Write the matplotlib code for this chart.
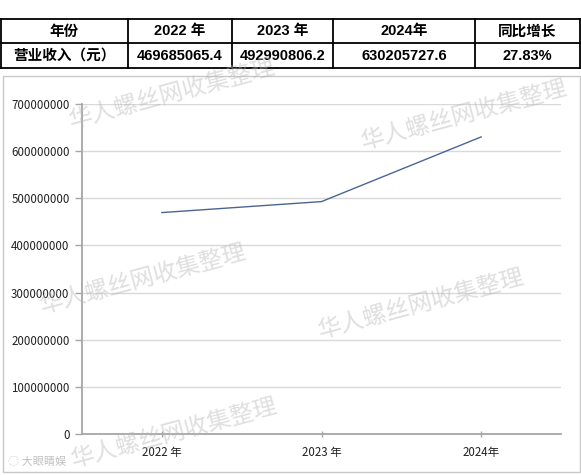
import numpy as np
import matplotlib
matplotlib.use('Agg')
import matplotlib.pyplot as plt
from matplotlib.patches import Rectangle

plt.rcParams['font.family'] = ['Noto Sans CJK SC', 'DejaVu Sans']

# 数据
years = ['2022 年', '2023 年', '2024年']
revenue = [469685065.4, 492990806.2, 630205727.6]
header = ['年份', '2022 年', '2023 年', '2024年', '同比增长']
row_label = '营业收入（元）'
yoy = revenue[-1] / revenue[-2] - 1
y_ticks = [0, 100000000, 200000000, 300000000, 400000000, 500000000, 600000000, 700000000]
watermark = '华人螺丝网收集整理'

W, H = 581, 475
fig = plt.figure(figsize=(W / 100, H / 100), dpi=100)
fig.patch.set_facecolor('white')

# 图表区
ax = fig.add_axes([82 / W, (H - 434) / H, 479 / W, 330 / H])
x = np.arange(len(years))
ax.plot(x, revenue, color='#4a6594', linewidth=1.0, zorder=3)
ax.set_xlim(-0.5, len(years) - 0.5)
ax.set_ylim(0, 700000000)
ax.set_yticks(y_ticks)
ax.set_yticklabels([str(v) for v in y_ticks])
ax.set_xticks(x)
ax.set_xticklabels(years)
ax.grid(axis='y', color='#d9d9d9', linewidth=1.0)
ax.set_axisbelow(True)
for s in ['top', 'right']:
    ax.spines[s].set_visible(False)
for s in ['left', 'bottom']:
    ax.spines[s].set_color('#a6a6a6')
    ax.spines[s].set_linewidth(1.3)
ax.tick_params(axis='y', direction='out', length=5, width=1, color='#a6a6a6',
               labelsize=8.3, labelcolor='#222222', pad=4)
ax.tick_params(axis='x', direction='inout', length=5, width=1, color='#a6a6a6',
               labelsize=8.3, labelcolor='#222222', pad=6)

# 覆盖层：表格、边框、水印
ov = fig.add_axes([0, 0, 1, 1], zorder=5)
ov.set_xlim(0, W)
ov.set_ylim(H, 0)
ov.axis('off')
ov.patch.set_alpha(0)

# 图表外框
ov.add_patch(Rectangle((3, 76), 577, 396, fill=False, edgecolor='#c8c8c8', linewidth=1.0))

# 表格
col_edges = [1, 128, 232, 333, 475, 580]
row_edges = [19, 43, 68]
for yy in row_edges:
    ov.plot([col_edges[0], col_edges[-1]], [yy, yy], color='black', linewidth=1.3)
for xx in col_edges:
    ov.plot([xx, xx], [row_edges[0], row_edges[-1]], color='black', linewidth=1.3)

row2 = [row_label] + [f'{v:.1f}' for v in revenue] + [f'{yoy * 100:.2f}%']
tfam = ['Liberation Sans', 'Noto Sans CJK SC']
for i in range(len(header)):
    cx = (col_edges[i] + col_edges[i + 1]) / 2
    ov.text(cx, (row_edges[0] + row_edges[1]) / 2 + 0.5, header[i], ha='center', va='center',
            fontsize=10.5, fontweight='bold', color='black', family=tfam)
    ov.text(cx, (row_edges[1] + row_edges[2]) / 2 + 0.5, row2[i], ha='center', va='center',
            fontsize=10.5, fontweight='bold', color='black', family=tfam)

# 水印
wm_pos = [(172, 94), (464, 115), (143, 279), (421, 304), (174, 433)]
for wx, wy in wm_pos:
    ov.text(wx, wy, watermark, ha='center', va='center', rotation=15,
            rotation_mode='anchor', fontsize=17, color='#b8b8b8', alpha=0.45)

ov.text(8, 462, '◌ 大眼睛娱', ha='left', va='center', fontsize=8, color='#b0b0b0', alpha=0.8)

fig.savefig('out.png', dpi=100)
